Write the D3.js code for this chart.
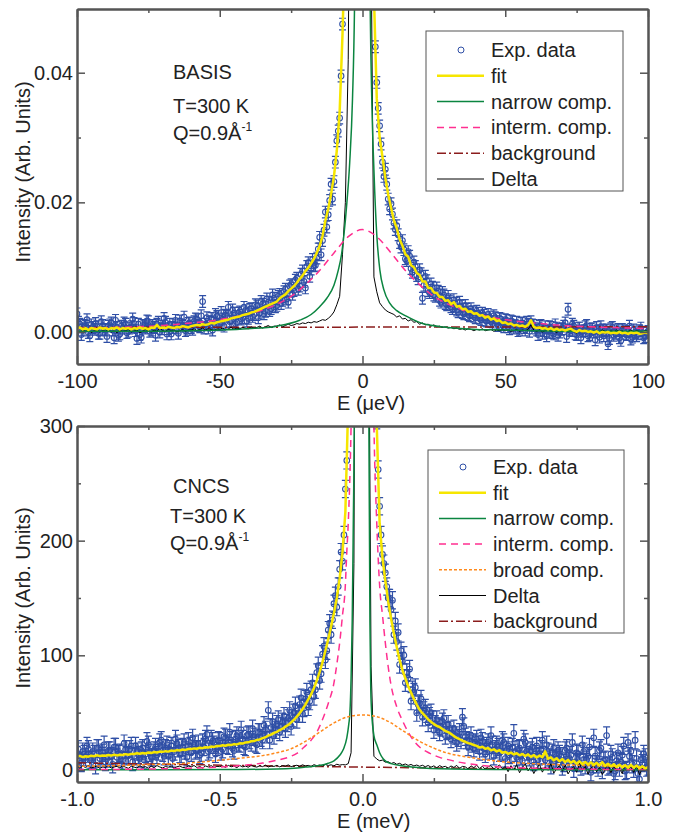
<!DOCTYPE html>
<html>
<head>
<meta charset="utf-8">
<script src="https://cdn.jsdelivr.net/npm/d3@7"></script>
<style>
  body { margin: 0; background: #fff; }
  svg { display: block; }
  text { font-family: "Liberation Sans", Arial, Helvetica, sans-serif; }
</style>
</head>
<body>
<svg id="chart" width="680" height="834"></svg>
<script>
// ---------- BASIS panel (E in micro-eV) ----------
const basisGrid = d3.range(-100, 101);        // integer energies
const basisGridMid = d3.range(-99.5, 100, 1); // half-step energies
const basisErr = 0.0009;

const basisExp = [
  .0028,.0012,.0003,.0009,-.0001,.0011,.0004,.0008,-.0002,.0010,
  .0003,.0009,.0014,-.0009,.0007,-.0003,.0006,.0012,.0001,.0008,
  .0013,-.0010,-.0004,.0010,.0006,.0016,.0003,.0007,.0012,.0000,
  .0009,.0015,.0005,-.0003,.0011,.0006,.0017,.0009,.0002,.0013,
  .0007,.0016,.0019,.0008,.0047,.0012,.0006,.0021,.0013,.0024,
  .0011,.0020,.0026,.0038,.0017,.0029,.0015,.0031,.0022,.0033,
  .0021,.0036,.0027,.0040,.0029,.0043,.0032,.0046,.0036,.0052,
  .0041,.0058,.0049,.0066,.0046,.0073,.0064,.0083,.0071,.0094,
  .0068,.0107,.0097,.0102,.0114,.0146,.0141,.0185,.0181,.0228,
  .0232,.0295,.0330,.0475,
  .064,.09,.15,.30,.45,.50,.50,.48,.35,.15,
  .055,.0385,.0318,.0262,.0251,.0205,.0198,.0168,.0164,.0138,
  .0141,.0113,.0124,.0098,.0108,.0087,.0096,.0052,.0086,.0064,
  .0074,.0057,.0068,.0049,.0061,.0044,.0055,
  .0039,.0050,.0034,.0046,.0030,.0041,.0027,.0036,.0024,.0032,
  .0021,.0029,.0018,.0027,.0016,.0025,.0013,.0021,.0011,.0019,
  .0008,.0017,.0006,.0015,.0004,.0014,.0003,.0012,.0016,.0010,
  .0003,.0009,-.0002,.0008,.0001,.0007,-.0003,.0006,.0000,.0005,
  .0014,.0035,.0002,.0009,-.0004,.0006,.0001,.0008,-.0006,.0004,
  .0000,.0007,-.0008,.0003,.0002,-.0018,.0005,-.0005,.0002,-.0009,
  .0004,-.0003,.0001,-.0011,.0003,-.0006,.0002,-.0002,-.0007,.0001
];

const basisExpMid = [
  .0015,-.0004,.0010,.0019,-.0006,.0007,.0013,-.0002,.0016,.0004,
  -.0007,.0011,.0003,.0018,-.0005,.0009,.0014,-.0001,.0006,.0020,
  .0002,.0012,-.0008,.0008,.0017,.0001,.0010,-.0005,.0015,.0005,
  .0021,-.0003,.0012,.0007,.0018,-.0002,.0011,.0023,.0004,.0014,
  .0004,.0020,.0010,.0025,.0006,.0022,.0015,.0003,.0027,.0012,
  .0030,.0009,.0024,.0016,.0034,.0013,.0029,.0020,.0038,.0017,
  .0035,.0024,.0042,.0022,.0047,.0028,.0051,.0033,.0057,.0039,
  .0055,.0044,.0062,.0051,.0071,.0058,.0080,.0066,.0089,.0078,
  .0101,.0086,.0112,.0103,.0128,.0119,.0157,.0162,.0203,.0205,
  .0262,.0310,.0395,.0560,
  .08,.12,.2,.38,.48,.5,.49,.42,.25,.085,
  .0440,.0345,.0290,.0240,.0228,.0190,.0182,.0158,.0150,.0131,
  .0127,.0110,.0117,.0092,.0101,.0082,.0090,.0072,.0079,.0061,
  .0069,.0055,.0063,.0046,.0057,.0042,
  .0048,.0036,.0044,.0031,.0040,.0028,.0035,.0025,.0031,.0022,
  .0029,.0019,.0026,.0017,.0023,.0013,.0022,.0010,.0020,.0008,
  .0018,.0005,.0016,.0009,.0002,.0013,.0007,.0015,.0001,.0011,
  .0006,-.0004,.0010,.0002,-.0006,.0008,-.0001,.0011,-.0005,.0004,
  .0009,-.0007,.0003,.0012,-.0003,.0006,-.0009,.0002,.0010,-.0004,
  .0005,-.0012,.0001,.0008,-.0006,.0003,-.0010,.0007,-.0002,.0004,
  -.0013,.0002,-.0004,.0009,-.0008,.0000,-.0003,.0006,-.0009,-.0001
];

const basisFit = [
  .0005,.0007,.0004,.0006,.0003,.0006,.0005,.0004,.0007,.0005,
  .0006,.0004,.0006,.0005,.0007,.0004,.0006,.0005,.0006,.0004,
  .0006,.0005,.0007,.0005,.0006,.0004,.0007,.0006,.0011,.0006,
  .0007,.0006,.0008,.0007,.0006,.0008,.0007,.0009,.0008,.0007,
  .0009,.0010,.0011,.0010,.0012,.0011,.0012,.0014,.0013,.0015,
  .0016,.0017,.0018,.0019,.0021,.0022,.0023,.0024,.0026,.0027,
  .0028,.0030,.0031,.0033,.0035,.0037,.0039,.0041,.0043,.0045,
  .0047,.0052,.0055,.0058,.0063,.0067,.0071,.0076,.0082,.0087,
  .0094,.0099,.0106,.0113,.0122,.0133,.0148,.0172,.0190,.0213,
  .0240,.0280,.0340,.0460,
  .062,.09,.14,.25,.40,.48,.50,.45,.30,.12,
  .052,.036,.030,.027,.0238,.0212,.0192,.0172,.0160,.0143,
  .0133,.0120,.0116,.0103,.0100,.0091,.0088,.0078,.0078,.0068,
  .0068,.0061,.0060,.0054,.0054,.0048,.0049,
  .0043,.0046,.0039,.0040,.0035,.0036,.0031,.0032,.0028,.0029,
  .0025,.0026,.0022,.0024,.0019,.0021,.0017,.0018,.0014,.0015,
  .0012,.0013,.0010,.0011,.0009,.0010,.0008,.0011,.0018,.0008,
  .0006,.0007,.0005,.0006,.0004,.0006,.0003,.0005,.0003,.0004,
  .0002,.0004,.0005,.0002,.0000,.0003,.0001,.0002,.0000,.0001,
  -.0001,.0001,-.0002,.0000,-.0001,.0000,-.0002,-.0001,-.0002,.0000,
  -.0002,-.0001,-.0003,-.0001,-.0002,-.0001,-.0003,-.0002,-.0001,-.0002
];

const basisDelta = [
  .0002,.0000,.0003,.0001,.0004,-.0001,.0002,.0003,.0000,.0002,
  .0001,.0004,.0000,.0002,-.0001,.0003,.0001,.0002,.0004,.0000,
  .0002,.0003,-.0001,.0001,.0004,.0002,.0000,.0003,.0001,.0006,
  .0002,.0001,.0004,.0002,.0003,.0000,.0002,.0004,.0001,.0003,
  .0003,.0005,.0002,.0004,.0006,.0003,.0005,.0004,.0002,.0005,
  .0004,.0006,.0003,.0005,.0007,.0004,.0006,.0005,.0007,.0006,
  .0005,.0008,.0006,.0007,.0009,.0006,.0008,.0010,.0007,.0009,
  .0009,.0011,.0008,.0010,.0012,.0010,.0011,.0013,.0012,.0014,
  .0013,.0015,.0014,.0016,.0015,.0017,.0019,.0018,.0021,.0025,
  .0031,.0042,.0055,.012,.020,.042,.10,.35,.70,.90,
  1.0,
  .9,.5,.06,.0085,.0062,.0045,.0039,.0034,.0031,.0029,
  .0027,.0023,.0025,.0020,.0021,.0017,.0019,.0015,.0016,.0012,
  .0014,.0011,.0012,.0009,.0011,.0008,.0009,.0007,.0008,.0006,
  .0007,.0005,.0006,.0004,.0005,.0003,.0005,.0004,.0002,.0004,
  .0003,.0005,.0002,.0003,.0004,.0001,.0003,.0002,.0004,.0002,
  .0003,.0001,.0002,.0004,.0001,.0003,.0002,.0004,.0011,.0003,
  .0001,.0003,.0000,.0002,.0004,.0001,.0002,-.0001,.0003,.0001,
  .0002,.0000,.0003,.0001,-.0002,.0002,.0000,.0003,.0001,.0002,
  -.0001,.0002,.0000,.0003,.0001,-.0001,.0002,.0000,.0003,.0001,
  .0002,-.0001,.0001,.0003,.0000,.0002,.0001,-.0001,.0002,.0001
];

const basisNarrow = [
  [-100,.0001],[-80,.0001],[-60,.0002],[-50,.0003],[-40,.0005],[-30,.0009],
  [-22,.0018],[-18,.0027],[-15,.0039],[-12.5,.0052],[-10,.0072],[-8.5,.0095],
  [-7.3,.0121],[-6.5,.015],[-5.5,.0198],[-4.5,.026],[-3.5,.036],[-2.8,.05],
  [-2,.09],[-1,.2],[0,.3],[1,.2],[2,.09],[2.7,.05],[3.3,.035],[4,.025],
  [5,.015],[6.1,.0095],[7.5,.0065],[9.6,.0044],[12,.0033],[15.5,.0024],
  [21,.0013],[30,.0007],[40,.0004],[50,.0003],[60,.0002],[80,.0001],[100,.0001]
];

const basisInterm = [
  [-100,.00053],[-90,.00065],[-80,.0008],[-70,.001],[-60,.0014],[-50,.0019],
  [-40,.0028],[-35,.0034],[-30,.0043],[-25,.0055],[-20,.0073],[-15,.0095],
  [-10,.0122],[-5,.0147],[0,.0158],[5,.0147],[10,.0122],[15,.0095],[20,.0073],
  [25,.0055],[30,.0043],[35,.0034],[40,.0028],[50,.0019],[60,.0014],[70,.001],
  [80,.0008],[90,.00065],[100,.00053]
];

const basisBackground = [[-100,.0007],[100,.0008]];

// ---------- CNCS panel (E in meV) ----------
const cncsGrid = d3.range(-100, 101).map(i => i / 100);
const cncsGridMid = d3.range(-199, 200, 2).map(i => i / 200);
const cncsErr = 7.5;

const cncsExp = [
  13,8,16,11,18,9,14,19,10,15,
  7,17,12,20,11,15,8,18,13,21,
  12,16,10,19,14,22,11,17,13,24,
  15,19,12,21,16,23,14,20,17,25,
  15,22,18,13,24,27,16,27,22,20,
  25,18,28,21,26,17,30,23,27,20,
  31,24,29,22,33,26,35,52,37,30,
  40,33,42,36,45,38,50,44,57,49,
  62,55,70,64,85,78,101,96,122,118,
  145,142,175,182,245,
  310,450,700,1000,1300,1400,1300,1000,700,470,305,
  230,188,172,150,
  140,118,112,92,95,76,80,60,68,50,
  58,46,54,41,50,35,44,33,42,30,
  40,27,36,24,33,46,29,20,30,19,
  27,16,25,14,24,30,12,22,15,26,
  10,21,14,32,11,19,8,24,13,17,
  7,21,12,26,9,16,4,19,10,14,
  3,17,8,13,1,15,6,22,4,12,
  -2,28,5,17,0,9,3,14,-3,8,
  2,13,-1,24,16,1,10,-8,6,11,3
];

const cncsExpMid = [
  18,6,14,21,9,16,4,19,12,22,
  10,17,5,20,14,8,23,12,18,7,
  21,13,17,9,25,15,11,20,16,26,
  12,22,18,10,27,19,14,24,11,21,
  28,17,23,15,20,31,18,25,14,26,
  16,29,22,33,19,27,24,35,21,30,
  26,36,23,33,28,39,31,26,42,35,
  44,38,47,41,52,45,56,49,63,54,
  68,60,76,70,91,84,108,104,128,131,
  152,160,190,205,270,
  380,580,850,1150,1350,1350,1150,850,600,390,
  262,205,180,160,150,
  148,130,120,104,100,85,88,70,72,57,
  62,52,49,47,44,40,38,37,45,34,
  35,31,30,28,26,38,26,25,23,24,
  22,28,19,21,17,22,18,20,16,24,
  17,13,20,15,18,12,27,16,11,20,
  14,9,18,13,22,11,15,8,17,12,
  6,19,10,24,7,14,3,16,9,20,
  5,12,2,19,8,30,4,11,-1,15,
  7,21,0,12,5,26,-3,9,14,2
];

const cncsFit = [
  11.5,12.3,11.2,12.0,11.6,12.4,12.0,12.8,12.1,12.6,
  12.4,13.1,12.5,13.3,12.7,13.2,13.0,13.8,13.3,14.0,
  13.9,14.5,14.1,14.8,14.4,15.2,14.8,15.6,15.2,16.0,
  15.8,16.4,16.0,16.9,16.6,17.3,17.0,17.8,17.5,18.3,
  18.2,18.8,18.5,19.4,19.0,19.8,19.6,20.4,20.1,20.9,
  20.8,21.5,21.1,22.0,21.7,22.5,22.3,23.2,23.0,24.0,
  24.1,25.0,25.2,26.2,26.6,27.8,28.5,29.9,30.8,32.3,
  33.2,34.8,36.0,37.8,39.3,41.5,43.8,46.5,49.6,53.0,
  57.0,61.5,66.0,71.5,78.0,85.5,94.0,104,114,125,
  137,150,167,190,225,
  320,480,800,1200,1500,1600,1500,1200,750,460,300,
  215,185,165,147,
  132,119,107,96,87,80,73,67.5,62,57,
  52.5,49.5,47,44,42,40,38.5,37.5,35.8,34,
  33,31.5,29.5,28,26.8,25.5,24.6,23.4,22.8,21.8,
  21.0,19.5,20.3,18.4,19.2,17.1,18.0,16.2,17.3,15.0,
  15.8,14.1,15.2,13.5,14.6,12.8,14.0,12.2,13.6,11.4,
  13.0,10.8,12.5,11.2,16.2,9.8,11.0,8.4,10.2,7.6,
  9.5,6.9,8.8,6.2,8.0,5.4,7.6,5.0,7.0,4.8,
  6.6,4.3,6.2,3.9,6.8,3.5,5.4,3.1,5.0,2.6,
  4.6,2.2,4.2,1.8,4.5,2.0,3.8,1.5,3.2,1.2,2.5
];

const cncsDelta = [
  2.8,1.5,3.4,2.1,3.9,1.8,2.6,3.5,1.2,2.9,
  2.2,3.8,1.6,2.7,3.1,1.9,3.6,2.4,1.4,3.2,
  2.5,1.7,3.7,2.3,2.9,1.5,3.3,2.0,3.9,2.6,
  1.8,3.0,2.4,3.5,1.6,2.8,3.4,2.2,1.9,3.6,
  2.7,3.9,2.1,3.0,1.7,3.5,2.6,3.8,2.3,3.1,
  2.9,3.6,2.2,4.0,2.8,3.3,2.0,3.9,2.7,3.4,
  2.4,4.1,3.0,2.5,3.7,2.9,4.2,2.6,3.5,3.1,
  4.0,2.7,3.8,3.3,4.4,2.9,3.6,4.1,3.2,4.5,
  3.5,4.0,3.1,4.6,3.7,4.3,3.4,4.8,3.9,4.5,
  3.6,5.0,4.2,4.7,4.4,
  5.5,15,180,900,2500,3000,2500,500,90,12,
  9.5,8.0,8.6,6.8,7.2,5.6,6.5,4.9,5.8,4.4,5.2,4.0,4.8,3.5,4.3,3.2,
  4.1,2.8,3.9,2.4,3.6,1.9,3.8,2.5,3.2,1.6,
  3.5,2.2,4.0,1.4,3.1,2.7,0.9,3.6,2.0,4.2,
  1.2,3.3,0.6,2.9,3.8,0.8,2.5,4.4,1.0,3.0,
  -1.5,3.8,0.2,4.6,-2.4,2.1,5.2,-0.8,3.0,-3.1,
  1.6,4.9,-1.9,2.7,-0.3,5.5,-2.8,1.1,3.9,-1.2,
  4.4,-3.5,0.7,2.9,-2.0,5.8,-0.6,3.3,-3.8,1.8,
  4.0,-1.6,2.2,-4.0,0.9,4.7,-2.5,3.6,-0.9,1.4,
  -3.3,5.1,0.4,2.6,-2.2,3.9,-4.2,1.5,-1.0,3.4
];

const cncsNarrow = [
  [-1,.1],[-0.5,.3],[-0.3,.8],[-0.24,1.5],[-0.2,2.5],[-0.15,3.8],[-0.12,5.8],
  [-0.1,8],[-0.079,13],[-0.067,18],[-0.055,28],[-0.048,40],[-0.044,50],
  [-0.04,80],[-0.036,130],[-0.032,220],[-0.028,320],[-0.02,900],[-0.005,2000],
  [0.005,1800],[0.015,800],[0.022,320],[0.026,130],[0.029,70],[0.031,55],
  [0.035,40],[0.04,30],[0.05,22],[0.06,15],[0.073,9.5],[0.085,7],[0.1,5.5],
  [0.143,3.5],[0.2,2],[0.27,1],[0.5,.4],[1,.1]
];

const cncsInterm = [
  [-1,.3],[-0.8,.6],[-0.7,1],[-0.6,1.6],[-0.5,2.6],[-0.4,4.5],[-0.35,6],
  [-0.3,8.5],[-0.25,12],[-0.23,14.5],[-0.2,21],[-0.18,26],[-0.16,33],
  [-0.14,44],[-0.12,58],[-0.1,76],[-0.09,92],[-0.079,113],[-0.07,135],
  [-0.061,157],[-0.055,190],[-0.05,215],[-0.04,300],[-0.03,480],[-0.02,750],
  [0,1500],[0.02,750],[0.03,480],[0.04,300],[0.05,215],[0.061,157],[0.07,135],
  [0.079,113],[0.09,90],[0.1,74],[0.12,55],[0.14,43],[0.16,33],[0.178,26],
  [0.2,20],[0.236,14.5],[0.27,11],[0.3,9],[0.33,7.2],[0.36,5.8],[0.4,4.5],
  [0.48,2.6],[0.6,1.6],[0.8,.6],[1,.3]
];

const cncsBroad = [
  [-1,3.2],[-0.9,3.6],[-0.8,4.2],[-0.7,5],[-0.6,6.2],[-0.5,8.5],[-0.4,11],
  [-0.35,12.5],[-0.3,15],[-0.25,18.5],[-0.2,25],[-0.15,33],[-0.1,41],
  [-0.05,46.5],[0,48],[0.05,46.5],[0.1,41],[0.137,35],[0.2,25],[0.25,19],
  [0.3,14.5],[0.35,12],[0.4,10],[0.5,7],[0.6,5.5],[0.7,4.5],[0.8,3.8],
  [0.9,3.2],[1,2.8]
];

const cncsBackground = [[-1,6.2],[0,2.5],[1,0]];

// ---------- styles ----------
const lineStyle = {
  fit:        { stroke: "#f6e600", width: 2.5, dash: null },
  narrow:     { stroke: "#0b8540", width: 1.5, dash: null },
  interm:     { stroke: "#ff2f90", width: 1.5, dash: "7,5" },
  broad:      { stroke: "#ff8a1c", width: 1.5, dash: "3,2" },
  delta:      { stroke: "#000000", width: 1,   dash: null },
  background: { stroke: "#8b1c1c", width: 1.5, dash: "9,3,2,3" }
};
const blue = "#2f4fa6";
const axisColor = "#555";
const plotL = 77, plotR = 648;

const svg = d3.select("#chart");

function drawPanel(p) {
  const x = d3.scaleLinear().domain(p.xDomain).range([plotL, plotR]);
  const y = d3.scaleLinear().domain(p.yDomain).range([p.bottom, p.top]);

  svg.append("clipPath").attr("id", p.id)
    .append("rect")
    .attr("x", plotL).attr("y", p.top)
    .attr("width", plotR - plotL).attr("height", p.bottom - p.top);

  const plot = svg.append("g").attr("clip-path", `url(#${p.id})`);

  // experimental points with error bars (integer grid + half-step grid)
  const pts = p.grid.map((e, i) => ({ e, v: p.exp[i] }))
    .concat(p.gridMid.map((e, i) => ({ e, v: p.expMid[i] })))
    .sort((a, b) => a.e - b.e);
  plot.append("g").selectAll("path").data(pts).join("path")
    .attr("fill", "none")
    .attr("stroke", blue)
    .attr("stroke-width", 1.2)
    .attr("d", d => {
      const cx = x(d.e), y1 = y(d.v - p.err), y2 = y(d.v + p.err);
      return `M${cx},${y1}V${y2}M${cx - 3.5},${y1}h7M${cx - 3.5},${y2}h7`;
    });
  plot.append("g").selectAll("circle").data(pts).join("circle")
    .attr("cx", d => x(d.e))
    .attr("cy", d => y(d.v))
    .attr("r", 2.8)
    .attr("fill", "none")
    .attr("stroke", blue)
    .attr("stroke-width", 1.1);

  // model curves
  p.curves.forEach(c => {
    const st = lineStyle[c.key];
    const data = c.values ? p.grid.map((e, i) => [e, c.values[i]]) : c.pairs;
    const line = d3.line()
      .x(d => x(d[0]))
      .y(d => y(d[1]))
      .curve(c.values ? d3.curveLinear : d3.curveMonotoneX);
    plot.append("path")
      .datum(data)
      .attr("fill", "none")
      .attr("stroke", st.stroke)
      .attr("stroke-width", st.width)
      .attr("stroke-dasharray", st.dash)
      .attr("stroke-linejoin", "round")
      .attr("d", line);
  });

  // axes: ticks point inward, labels on bottom/left only
  const ax = svg.append("g");
  ax.append("g").attr("transform", `translate(0,${p.bottom})`)
    .call(d3.axisBottom(x).tickValues(p.xMajor).tickSizeInner(-8).tickSizeOuter(0)
      .tickPadding(p.xPad).tickFormat(p.xFormat));
  ax.append("g").attr("transform", `translate(0,${p.bottom})`)
    .call(d3.axisBottom(x).tickValues(p.xMinor).tickSizeInner(-4).tickSizeOuter(0).tickFormat(""));
  ax.append("g").attr("transform", `translate(0,${p.top})`)
    .call(d3.axisTop(x).tickValues(p.xMajor).tickSizeInner(-8).tickSizeOuter(0).tickFormat(""));
  ax.append("g").attr("transform", `translate(0,${p.top})`)
    .call(d3.axisTop(x).tickValues(p.xMinor).tickSizeInner(-4).tickSizeOuter(0).tickFormat(""));
  ax.append("g").attr("transform", `translate(${plotL},0)`)
    .call(d3.axisLeft(y).tickValues(p.yMajor).tickSizeInner(-8).tickSizeOuter(0)
      .tickPadding(4).tickFormat(p.yFormat));
  ax.append("g").attr("transform", `translate(${plotL},0)`)
    .call(d3.axisLeft(y).tickValues(p.yMinor).tickSizeInner(-4).tickSizeOuter(0).tickFormat(""));
  ax.append("g").attr("transform", `translate(${plotR},0)`)
    .call(d3.axisRight(y).tickValues(p.yMajor).tickSizeInner(-8).tickSizeOuter(0).tickFormat(""));
  ax.append("g").attr("transform", `translate(${plotR},0)`)
    .call(d3.axisRight(y).tickValues(p.yMinor).tickSizeInner(-4).tickSizeOuter(0).tickFormat(""));

  ax.selectAll(".domain").attr("stroke", axisColor).attr("stroke-width", 2);
  ax.selectAll(".tick line").attr("stroke", axisColor).attr("stroke-width", 1.5);
  ax.selectAll(".tick text")
    .attr("font-size", 20)
    .attr("font-family", '"Liberation Sans", Arial, sans-serif')
    .attr("fill", "#222");

  // axis titles
  svg.append("text")
    .attr("x", 337).attr("y", p.xLabelY)
    .attr("font-size", 20).attr("fill", "#222")
    .text(p.xLabel);
  svg.append("text")
    .attr("transform", `translate(30,${p.yLabelY}) rotate(-90)`)
    .attr("text-anchor", "middle")
    .attr("font-size", 20).attr("fill", "#222")
    .text("Intensity (Arb. Units)");

  // instrument notes
  svg.append("text").attr("x", 173).attr("y", p.noteY[0])
    .attr("font-size", 20).attr("fill", "#222").text(p.instrument);
  svg.append("text").attr("x", p.noteX).attr("y", p.noteY[1])
    .attr("font-size", 20).attr("fill", "#222").text("T=300 K");
  const q = svg.append("text").attr("x", p.noteX).attr("y", p.noteY[2])
    .attr("font-size", 20).attr("fill", "#222");
  q.append("tspan").text("Q=0.9Å");
  q.append("tspan").attr("dy", -9).attr("font-size", 12).text("-1");

  // legend
  const lg = svg.append("g");
  lg.append("rect")
    .attr("x", p.legend.x).attr("y", p.legend.y)
    .attr("width", p.legend.w).attr("height", p.legend.h)
    .attr("fill", "#fff").attr("stroke", "#555").attr("stroke-width", 1);
  p.legend.rows.forEach((r, i) => {
    const cy = p.legend.row0 + i * p.legend.dy;
    if (r.key === "exp") {
      lg.append("circle").attr("cx", p.legend.x + 35).attr("cy", cy).attr("r", 3)
        .attr("fill", "#fff").attr("stroke", blue).attr("stroke-width", 1);
    } else {
      const st = lineStyle[r.key];
      lg.append("line")
        .attr("x1", p.legend.x + 11).attr("x2", p.legend.x + 58)
        .attr("y1", cy).attr("y2", cy)
        .attr("stroke", st.stroke).attr("stroke-width", st.width)
        .attr("stroke-dasharray", st.dash);
    }
    lg.append("text")
      .attr("x", p.legend.x + 65).attr("y", cy + 7)
      .attr("font-size", 20).attr("fill", "#222")
      .text(r.label);
  });
}

drawPanel({
  id: "clip-basis",
  top: 9, bottom: 364,
  xDomain: [-100, 100], yDomain: [-0.00494, 0.04983],
  xMajor: [-100, -50, 0, 50, 100], xMinor: [-75, -25, 25, 75],
  yMajor: [0, 0.02, 0.04], yMinor: [0.01, 0.03],
  xFormat: d => String(d), yFormat: d => d.toFixed(2), xPad: 10,
  grid: basisGrid, gridMid: basisGridMid,
  exp: basisExp, expMid: basisExpMid, err: basisErr,
  curves: [
    { key: "background", pairs: basisBackground },
    { key: "delta", values: basisDelta },
    { key: "narrow", pairs: basisNarrow },
    { key: "interm", pairs: basisInterm },
    { key: "fit", values: basisFit }
  ],
  xLabel: "E (μeV)", xLabelY: 410, yLabelY: 172,
  instrument: "BASIS", noteX: 173, noteY: [79, 113, 140],
  legend: {
    x: 426, y: 31, w: 197, h: 160, row0: 50, dy: 25.8,
    rows: [
      { key: "exp", label: "Exp. data" },
      { key: "fit", label: "fit" },
      { key: "narrow", label: "narrow comp." },
      { key: "interm", label: "interm. comp." },
      { key: "background", label: "background" },
      { key: "delta", label: "Delta" }
    ]
  }
});

drawPanel({
  id: "clip-cncs",
  top: 426, bottom: 782,
  xDomain: [-1, 1], yDomain: [-10.5, 300],
  xMajor: [-1, -0.5, 0, 0.5, 1], xMinor: [-0.75, -0.25, 0.25, 0.75],
  yMajor: [0, 100, 200, 300], yMinor: [50, 150, 250],
  xFormat: d => d.toFixed(1), yFormat: d => String(d), xPad: 10,
  grid: cncsGrid, gridMid: cncsGridMid,
  exp: cncsExp, expMid: cncsExpMid, err: cncsErr,
  curves: [
    { key: "background", pairs: cncsBackground },
    { key: "delta", values: cncsDelta },
    { key: "narrow", pairs: cncsNarrow },
    { key: "interm", pairs: cncsInterm },
    { key: "broad", pairs: cncsBroad },
    { key: "fit", values: cncsFit }
  ],
  xLabel: "E (meV)", xLabelY: 828, yLabelY: 598,
  instrument: "CNCS", noteX: 170, noteY: [493, 523, 550],
  legend: {
    x: 428, y: 450, w: 196, h: 183, row0: 467, dy: 25.7,
    rows: [
      { key: "exp", label: "Exp. data" },
      { key: "fit", label: "fit" },
      { key: "narrow", label: "narrow comp." },
      { key: "interm", label: "interm. comp." },
      { key: "broad", label: "broad comp." },
      { key: "delta", label: "Delta" },
      { key: "background", label: "background" }
    ]
  }
});
</script>
</body>
</html>
